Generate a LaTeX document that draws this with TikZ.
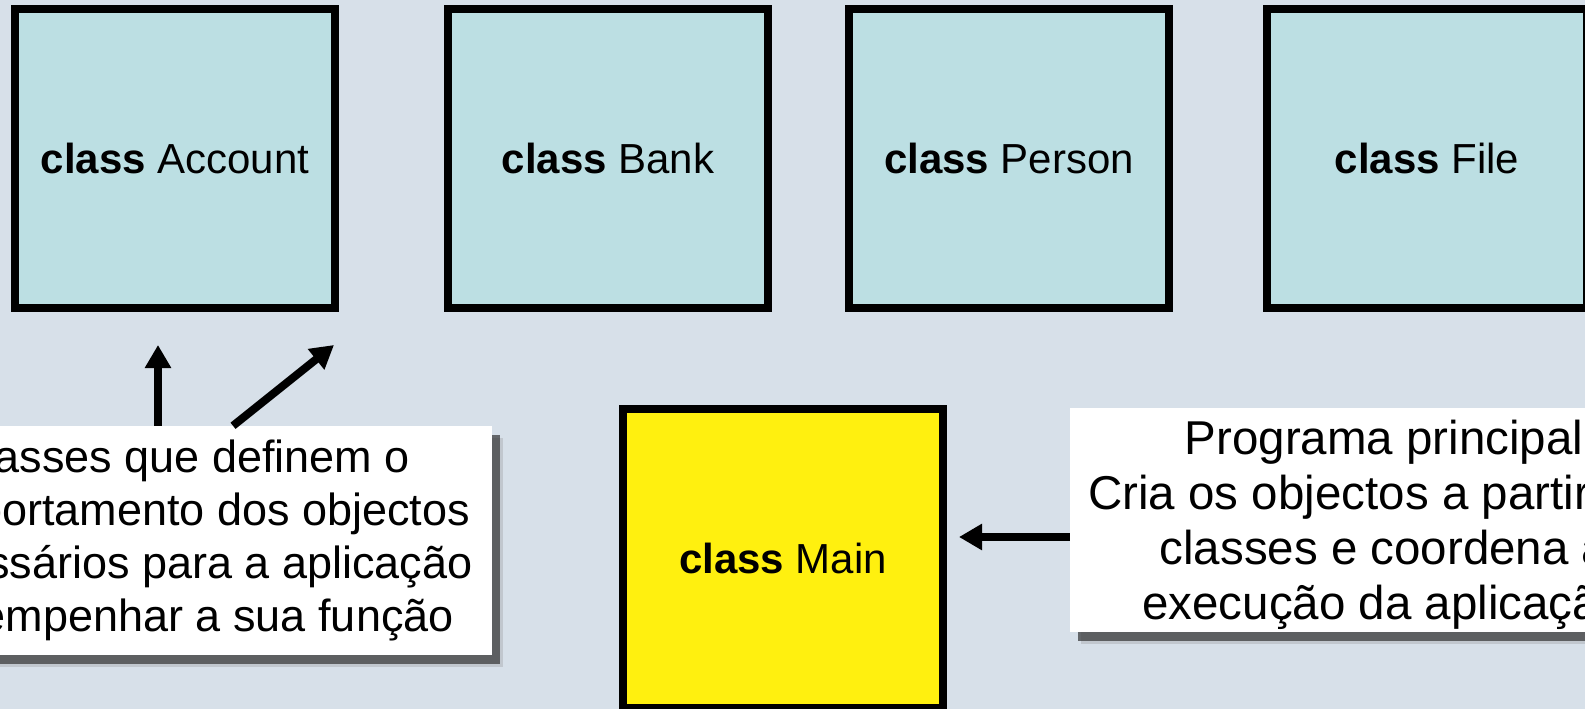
\documentclass[tikz,border=0pt]{standalone}
\usepackage{fontspec}
\setmainfont{Liberation Sans}
\usetikzlibrary{positioning}
\usetikzlibrary{shadows}
\usetikzlibrary{arrows.meta}
\definecolor{slidebg}{RGB}{215,224,233}
\definecolor{clsblue}{RGB}{188,223,227}
\definecolor{mainyellow}{RGB}{255,240,15}

\begin{document}
\begin{tikzpicture}[x=1pt,y=-1pt,
  cls/.style={rectangle,draw=black,line width=8pt,fill=clsblue,
    minimum width=320pt,minimum height=299pt,align=center,
    font=\fontsize{42}{50}\selectfont},
  note/.style={rectangle,fill=white,align=center,inner sep=0pt,
    font=\fontsize{45}{53}\selectfont,
    drop shadow={shadow xshift=11pt,shadow yshift=-12pt,opacity=.25},
    drop shadow={shadow xshift=8pt,shadow yshift=-9pt,fill=black!80,opacity=.7}},
  arr/.style={-{Triangle[length=23pt,width=25pt]},line width=8pt}
]
  \useasboundingbox (0,0) rectangle (1585,709);
  \fill[slidebg] (0,0) rectangle (1585,709);
  % the classes
  \node[cls] (A) at (175,158.5) {\textbf{class} Account};
  \node[cls,right=105pt of A] (B) {\textbf{class} Bank};
  \node[cls,right=73pt of B] (P) {\textbf{class} Person};
  \node[cls,right=90pt of P] (F) {\textbf{class} File};
  \node[cls,fill=mainyellow] (M) at (783,558) {\textbf{class} Main};
  % the notes
  \node[note,minimum width=622pt,minimum height=229pt] (L) at (181,540.5)
    {Classes que definem o\\comportamento dos objectos\\necessários para a aplicação\\desempenhar a sua função};
  \node[note,minimum width=628pt,minimum height=224pt,
    font=\fontsize{47.5}{55}\selectfont] (R) at (1384,520)
    {\rule{0pt}{45pt}Programa principal\\Cria os objectos a partir das\\classes e coordena a\\execução da aplicação};
  \coordinate (t1) at (158,345);
  \coordinate (t2) at (334,345);
  \coordinate (t3) at (959,537);
  \draw[arr] (L.north -| t1) -- (t1);
  \draw[arr] ([xshift=52pt]L.north) -- (t2);
  \draw[arr] (R.west |- t3) -- (t3);
\end{tikzpicture}
\end{document}
